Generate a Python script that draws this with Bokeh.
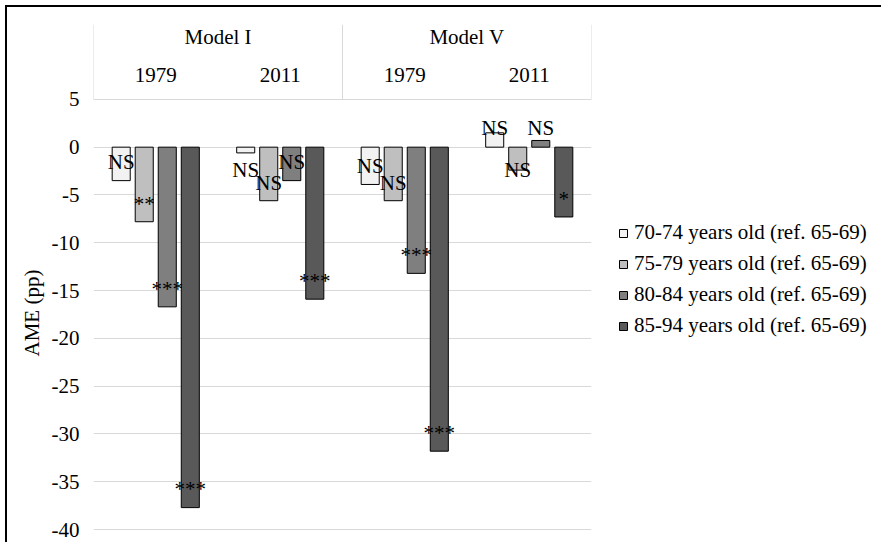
from bokeh.plotting import figure
from bokeh.models import Range1d, FixedTicker, Legend, LegendItem, Title, ColumnDataSource
from bokeh.core.properties import value
from bokeh.embed import file_html
from bokeh.resources import INLINE

# ---------------- data ----------------
models = ["Model I", "Model V"]
years = ["1979", "2011", "1979", "2011"]
series_names = [
    "70-74 years old (ref. 65-69)",
    "75-79 years old (ref. 65-69)",
    "80-84 years old (ref. 65-69)",
    "85-94 years old (ref. 65-69)",
]
v_70_74 = [-3.5, -0.6, -3.9, 1.5]
v_75_79 = [-7.8, -5.6, -5.6, -2.4]
v_80_84 = [-16.7, -3.5, -13.2, 0.7]
v_85_94 = [-37.7, -15.9, -31.8, -7.3]
sig_70_74 = ["NS", "NS", "NS", "NS"]
sig_75_79 = ["**", "NS", "NS", "NS"]
sig_80_84 = ["***", "NS", "***", "NS"]
sig_85_94 = ["***", "***", "***", "*"]
y_ticks = [5, 0, -5, -10, -15, -20, -25, -30, -35, -40]

series_values = [v_70_74, v_75_79, v_80_84, v_85_94]
series_sigs = [sig_70_74, sig_75_79, sig_80_84, sig_85_94]
colors = ["#f2f2f2", "#bfbfbf", "#7f7f7f", "#595959"]

FONT = "Liberation Serif"
FS = "21px"

y_top, y_bottom = 12.83, -41.14
p = figure(frame_width=498, frame_height=516, output_backend="svg", toolbar_location=None,
           x_range=Range1d(0, len(years)), y_range=Range1d(y_bottom, y_top),
           x_axis_location=None, min_border_left=93, min_border_right=282,
           min_border_top=24, min_border_bottom=2,
           styles={"background-color": "#ffffff",
                   "background-image": "linear-gradient(#000,#000), linear-gradient(#000,#000)",
                   "background-size": "100% 2px, 2px 100%",
                   "background-position": "5px 5px, 5px 5px",
                   "background-repeat": "no-repeat"})
p.outline_line_color = None
p.background_fill_alpha = 0
p.border_fill_alpha = 0
p.xgrid.visible = False
p.ygrid.ticker = FixedTicker(ticks=y_ticks)
p.ygrid.grid_line_color = "#d9d9d9"
p.ygrid.grid_line_width = 1

ya = p.yaxis[0]
ya.ticker = FixedTicker(ticks=y_ticks)
ya.major_label_overrides = {t: str(t) for t in y_ticks}
ya.axis_line_color = None
ya.major_tick_line_color = None
ya.minor_tick_line_color = None
ya.major_label_text_font = FONT
ya.major_label_text_font_size = FS
ya.major_label_text_color = "#000000"
ya.major_label_standoff = 8

p.add_layout(Title(text="AME (pp)", align="left", offset=184, text_font=FONT,
                   text_font_size=FS, text_font_style="normal", text_color="black"), "left")

# header (category labels above the plot area)
top_tick = max(y_ticks)
hdr = y_top - top_tick
p.segment(x0=[0, 2, 4], y0=top_tick, x1=[0, 2, 4], y1=y_top,
          line_color="#d9d9d9", line_width=1)
p.text(x=[i + 0.5 for i in range(len(years))], y=top_tick + hdr * 0.33,
       text=years, text_font=value(FONT), text_font_size=FS,
       text_align="center", text_baseline="middle", text_color="black")
p.text(x=[2 * i + 1 for i in range(len(models))], y=top_tick + hdr * 0.83,
       text=models, text_font=value(FONT), text_font_size=FS,
       text_align="center", text_baseline="middle", text_color="black")

# bars
step, width = 0.185, 0.145
renderers = []
for j, (vals, col) in enumerate(zip(series_values, colors)):
    xs = [i + 0.5 + (j - 1.5) * step for i in range(len(years))]
    src = ColumnDataSource(dict(x=xs, top=vals))
    r = p.vbar(x="x", top="top", bottom=0, width=width, source=src,
               fill_color=col, line_color="black", line_width=1)
    renderers.append(r)

# data labels ("inside end")
def label_y(v):
    if abs(v) >= 3.2:
        return v + 1.9 if v < 0 else v - 1.9
    return -2.4 if v < 0 else 2.05

for j, (vals, sigs) in enumerate(zip(series_values, series_sigs)):
    xs = [i + 0.5 + (j - 1.5) * step for i in range(len(years))]
    ys = [label_y(v) for v in vals]
    p.text(x=xs, y=ys, text=sigs, text_font=value(FONT), text_font_size=FS,
           text_align="center", text_baseline="middle", text_color="black")

legend = Legend(items=[LegendItem(label=n, renderers=[r]) for n, r in zip(series_names, renderers)],
                location=(27, 202), orientation="vertical",
                glyph_width=10, glyph_height=10, label_standoff=6,
                label_height=21, spacing=6, padding=0, margin=0,
                border_line_color=None, background_fill_alpha=0,
                label_text_font=FONT, label_text_font_size=FS, label_text_color="black")
p.add_layout(legend, "right")

open("out.html", "w").write(file_html(p, INLINE))
